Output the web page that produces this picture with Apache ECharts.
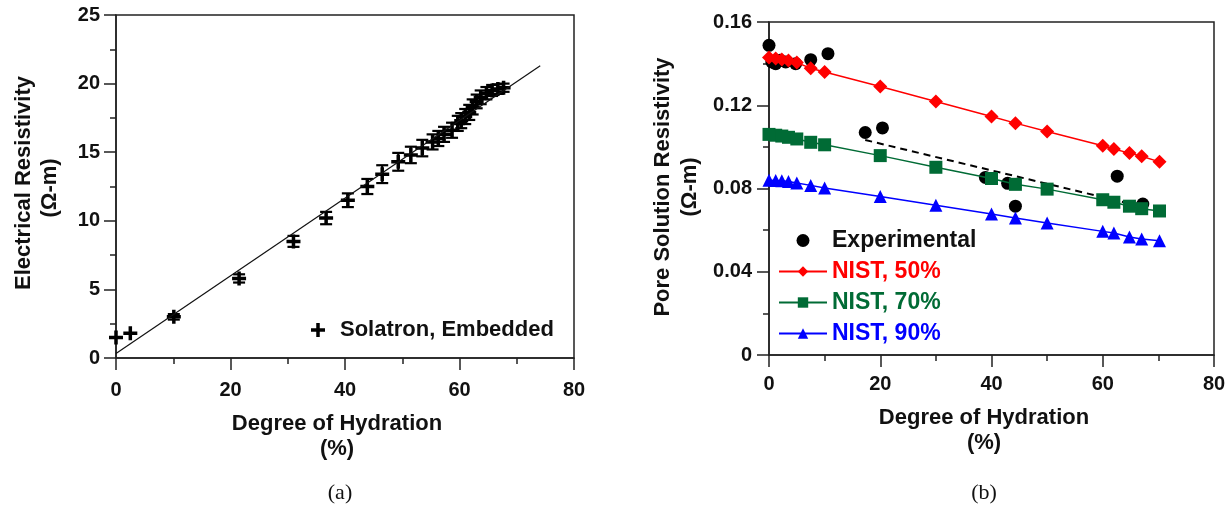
<!DOCTYPE html>
<html>
<head>
<meta charset="utf-8">
<script src="https://cdn.jsdelivr.net/npm/echarts@6/dist/echarts.min.js"></script>
<style>
html, body { margin: 0; padding: 0; background: #fff; }
#chart { width: 1232px; height: 508px; }
</style>
</head>
<body>
<div id="chart"></div>
<script>
// (a) electrical resistivity vs degree of hydration
const hydrationA = [0, 2.5, 10.1, 21.5, 31, 36.7, 40.5, 43.9, 46.5, 49.3, 51.5, 53.5, 55.3, 56.3, 57.3, 58.7,
	59.7, 60.3, 61, 61.7, 62.3, 63, 63.7, 64.7, 65.7, 66.7, 67.7];
const resistivityA = [1.5, 1.8, 3.0, 5.8, 8.5, 10.2, 11.5, 12.5, 13.4, 14.3, 14.8, 15.3, 15.75, 16.0, 16.3, 16.6,
	17.1, 17.3, 17.6, 17.9, 18.3, 18.7, 19.0, 19.3, 19.5, 19.6, 19.7];
const resistivityErr = [0, 0, 0.2, 0.3, 0.4, 0.45, 0.5, 0.55, 0.65, 0.65, 0.6, 0.6, 0.55, 0.55, 0.55, 0.55,
	0.55, 0.55, 0.55, 0.55, 0.55, 0.5, 0.5, 0.45, 0.4, 0.35, 0.3];
const fitX = [0, 74.1];
const fitY = [0.32, 21.3];

// (b) pore solution resistivity
const hydrationExp = [0, 0.5, 1.2, 2, 3, 4.8, 7.5, 10.6, 17.3, 20.4, 38.9, 42.9, 44.3, 62.6, 67.2];
const poreExp = [0.1488, 0.1408, 0.14, 0.1416, 0.1408, 0.14, 0.1419, 0.1448, 0.1069, 0.1091, 0.0853, 0.0825,
	0.0715, 0.0859, 0.0725];
const hydrationNist = [0, 1.2, 2.3, 3.5, 5, 7.5, 10, 20, 30, 40, 44.3, 50, 60, 62, 64.8, 67, 70.2];
const nist50 = [0.143, 0.1425, 0.142, 0.1415, 0.1405, 0.1378, 0.136, 0.129, 0.1218, 0.1146, 0.1114, 0.1074,
	0.1005, 0.099, 0.097, 0.0955, 0.0928];
const nist70 = [0.106, 0.1056, 0.1052, 0.1046, 0.1038, 0.1022, 0.101, 0.0958, 0.0902, 0.0848, 0.082, 0.0797,
	0.0746, 0.0734, 0.0715, 0.0703, 0.0692];
const nist90 = [0.084, 0.0839, 0.0837, 0.0834, 0.0826, 0.0815, 0.0802, 0.0762, 0.0719, 0.0677, 0.0658, 0.0634,
	0.0594, 0.0586, 0.0567, 0.0557, 0.0549];
const trendX = [17.3, 67.2];
const trendY = [0.1033, 0.0712];

const FONT = '"Liberation Sans", Arial, sans-serif';
const SERIF = '"Liberation Serif", "Times New Roman", serif';
const INK = '#111';
const RED = '#ff0000';
const GREEN = '#006b35';
const BLUE = '#0000ff';
const PLUS = 'path://M5.25,0h3.5v5.25h5.25v3.5h-5.25v5.25h-3.5v-5.25h-5.25v-3.5h5.25z';

const pairs = (xs, ys) => xs.map((x, i) => [x, ys[i]]);

const axis = (gridIndex, min, max, interval, margin, formatter) => ({
	type: 'value',
	gridIndex,
	min,
	max,
	interval,
	axisLine: { show: true, onZero: false, lineStyle: { color: '#222', width: 1.5 } },
	axisTick: { show: true, inside: false, length: 12, lineStyle: { color: '#222', width: 1.5 } },
	minorTick: { show: true, splitNumber: 2, length: 6, lineStyle: { color: '#222', width: 1.5 } },
	splitLine: { show: false },
	axisLabel: { margin, color: INK, fontFamily: FONT, fontWeight: 'bold', fontSize: 20, formatter },
});

const titleText = (x, y, text, opts = {}) => ({
	type: 'text',
	x,
	y,
	rotation: opts.rotate ? Math.PI / 2 : 0,
	silent: true,
	style: {
		text,
		fill: INK,
		font: opts.font || `bold 22px ${FONT}`,
		textAlign: 'center',
		textVerticalAlign: 'middle',
	},
});

const chart = echarts.init(document.getElementById('chart'), null, { renderer: 'canvas' });

chart.setOption({
	animation: false,
	backgroundColor: '#fff',
	grid: [
		{ left: 116, top: 15, width: 458, height: 343, show: true, borderColor: '#222', borderWidth: 1.5, outerBoundsMode: 'none' },
		{ left: 769, top: 22, width: 445, height: 333, show: true, borderColor: '#222', borderWidth: 1.5, outerBoundsMode: 'none' },
	],
	xAxis: [
		axis(0, 0, 80, 20, 22),
		axis(1, 0, 80, 20, 19),
	],
	yAxis: [
		axis(0, 0, 25, 5, 16),
		axis(1, 0, 0.16, 0.04, 17, (v) => (v === 0 ? '0' : v.toFixed(2))),
	],
	legend: [
		{
			data: ['Solatron, Embedded'],
			orient: 'vertical',
			left: 311,
			top: 319,
			padding: 0,
			itemWidth: 14,
			itemHeight: 14,
			textStyle: { fontFamily: FONT, fontWeight: 'bold', fontSize: 22, color: INK, padding: [0, 0, 0, 10] },
		},
		{
			data: [
				{ name: 'Experimental', textStyle: { color: INK } },
				{ name: 'NIST, 50%', textStyle: { color: RED } },
				{ name: 'NIST, 70%', textStyle: { color: GREEN } },
				{ name: 'NIST, 90%', textStyle: { color: BLUE } },
			],
			orient: 'vertical',
			left: 778,
			top: 229,
			padding: 0,
			itemWidth: 48,
			itemHeight: 13,
			itemGap: 8,
			textStyle: { fontFamily: FONT, fontWeight: 'bold', fontSize: 23 },
		},
	],
	graphic: [
		titleText(24, 183, 'Electrical Resistivity', { rotate: true }),
		titleText(50, 188, '(Ω-m)', { rotate: true }),
		titleText(337, 424, 'Degree of Hydration'),
		titleText(337, 449, '(%)'),
		titleText(340, 493, '(a)', { font: `22px ${SERIF}` }),
		titleText(663, 187, 'Pore Solution Resistivity', { rotate: true }),
		titleText(690, 187, '(Ω-m)', { rotate: true }),
		titleText(984, 418, 'Degree of Hydration'),
		titleText(984, 443, '(%)'),
		titleText(984, 493, '(b)', { font: `22px ${SERIF}` }),
	],
	series: [
		{
			name: 'fit',
			type: 'line',
			xAxisIndex: 0,
			yAxisIndex: 0,
			data: pairs(fitX, fitY),
			showSymbol: false,
			silent: true,
			lineStyle: { color: INK, width: 1.2 },
		},
		{
			name: 'errorbars',
			type: 'custom',
			xAxisIndex: 0,
			yAxisIndex: 0,
			silent: true,
			data: hydrationA.map((x, i) => [x, resistivityA[i] - resistivityErr[i], resistivityA[i] + resistivityErr[i]]),
			renderItem: (params, api) => {
				const lo = api.coord([api.value(0), api.value(1)]);
				const hi = api.coord([api.value(0), api.value(2)]);
				const cap = 6;
				const style = { stroke: '#000', lineWidth: 2.2 };
				return {
					type: 'group',
					children: [
						{ type: 'line', shape: { x1: lo[0], y1: lo[1], x2: hi[0], y2: hi[1] }, style },
						{ type: 'line', shape: { x1: lo[0] - cap, y1: lo[1], x2: lo[0] + cap, y2: lo[1] }, style },
						{ type: 'line', shape: { x1: hi[0] - cap, y1: hi[1], x2: hi[0] + cap, y2: hi[1] }, style },
					],
				};
			},
		},
		{
			name: 'Solatron, Embedded',
			type: 'scatter',
			xAxisIndex: 0,
			yAxisIndex: 0,
			data: pairs(hydrationA, resistivityA),
			symbol: PLUS,
			symbolSize: 14,
			itemStyle: { color: '#000', opacity: 1 },
		},
		{
			name: 'NIST, 50%',
			type: 'line',
			xAxisIndex: 1,
			yAxisIndex: 1,
			data: pairs(hydrationNist, nist50),
			symbol: 'diamond',
			symbolSize: 14,
			color: RED,
			lineStyle: { color: RED, width: 1.5 },
			itemStyle: { color: RED },
		},
		{
			name: 'NIST, 70%',
			type: 'line',
			xAxisIndex: 1,
			yAxisIndex: 1,
			data: pairs(hydrationNist, nist70),
			symbol: 'rect',
			symbolSize: 13,
			color: GREEN,
			lineStyle: { color: GREEN, width: 1.5 },
			itemStyle: { color: GREEN },
		},
		{
			name: 'NIST, 90%',
			type: 'line',
			xAxisIndex: 1,
			yAxisIndex: 1,
			data: pairs(hydrationNist, nist90),
			symbol: 'triangle',
			symbolSize: 13,
			color: BLUE,
			lineStyle: { color: BLUE, width: 1.5 },
			itemStyle: { color: BLUE },
		},
		{
			name: 'trend',
			type: 'line',
			xAxisIndex: 1,
			yAxisIndex: 1,
			data: pairs(trendX, trendY),
			showSymbol: false,
			silent: true,
			lineStyle: { color: '#000', width: 2, type: [7, 5] },
		},
		{
			name: 'Experimental',
			type: 'scatter',
			xAxisIndex: 1,
			yAxisIndex: 1,
			data: pairs(hydrationExp, poreExp),
			symbol: 'circle',
			symbolSize: 13,
			itemStyle: { color: '#000', opacity: 1 },
		},
	],
});
</script>
</body>
</html>
